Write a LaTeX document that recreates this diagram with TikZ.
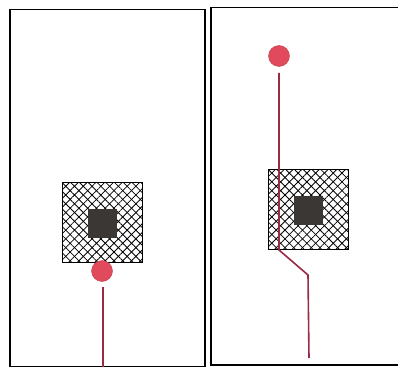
\documentclass[tikz,border=0pt]{standalone}
\usetikzlibrary{positioning, patterns.meta}

\definecolor{dotred}{HTML}{E04A5C}
\definecolor{wirered}{HTML}{9A2A46}
\definecolor{coregray}{HTML}{3B3735}

\begin{document}
\begin{tikzpicture}[x=1pt, y=-1pt,
    panel/.style={draw, line width=1.5pt, inner sep=0pt, anchor=north west, minimum width=#1, minimum height=357pt},
    pad/.style={draw, line width=1pt, inner sep=0pt, minimum size=80pt,
        pattern={Lines[angle=45, distance=6.2pt, line width=0.8pt]},
        preaction={pattern={Lines[angle=-45, distance=6.2pt, line width=0.8pt]}}},
    core/.style={fill=coregray, inner sep=0pt, minimum size=29pt},
    dot/.style={circle, fill=dotred, draw=dotred!85!black, inner sep=0pt, minimum size=21pt},
    wire/.style={draw=wirered, line width=1.6pt}]
    \useasboundingbox (0,0) rectangle (398,366);
   
    % left frame
    \node (frameL) [panel=195pt] at (9,9) {};
    \node (padL) [pad] at (102.5,222.5) {};
    \node (coreL) [core] at (102.5,223) {};
    \coordinate (wireLtop) at (103,287);
    \coordinate (wireLbot) at (103,367);
    \draw [wire] (wireLtop) -- (wireLbot);
    \node (dotL) [dot] at (102,271) {};
 
   
    % right frame
    \node (frameR) [panel=188pt] at (210,7) {};
    \node (padR) [pad] at (308,209.5) {};
    \node (coreR) [core] at (308,210.5) {};
    \node (dotR) [dot] at (279,56) {};
    \coordinate (wireRtop) at (279,73);
    \coordinate (wireRbend) at (279,250);
    \coordinate (wireRkink) at (308,275);
    \coordinate (wireRbot) at (309,358);
    \draw [wire] (wireRtop) -- (wireRbend) -- (wireRkink) -- (wireRbot);
\end{tikzpicture}
\end{document}
